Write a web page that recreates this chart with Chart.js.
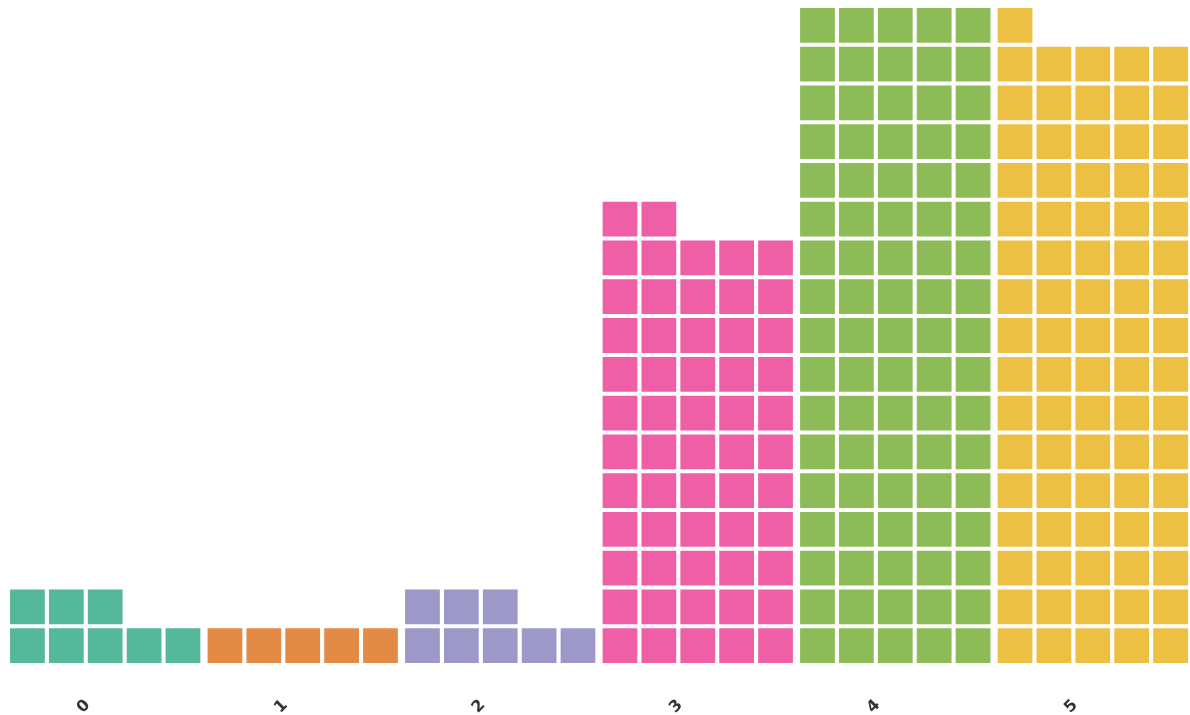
<!DOCTYPE html>
<html>
<head>
<meta charset="utf-8">
<script src="https://cdn.jsdelivr.net/npm/chart.js@4/dist/chart.umd.min.js"></script>
<style>
  html, body { margin: 0; padding: 0; background: #fff; }
  #wrap { width: 1190px; height: 715px; }
</style>
</head>
<body>
<div id="wrap"><canvas id="waffleChart"></canvas></div>
<script>
// waffle data: one square per unit, 5 squares per row
const categories = ['0', '1', '2', '3', '4', '5'];
const counts = [8, 5, 8, 57, 85, 81];
const colors = ['#55b89a', '#e38a44', '#9c98c8', '#ee5fa5', '#8cbb58', '#ebc043'];
const cellsPerRow = 5;

const groupGap = 0.08;     // extra space between category blocks, in cell units
const labelOffset = 1.55;  // where the tick label sits inside a block

function blockStart(i) {
    return i * (cellsPerRow + groupGap);
}

function renderWaffle() {
    const ctx = document.getElementById('waffleChart').getContext('2d');

    const datasets = categories.map((cat, i) => {
        const pts = [];
        for (let n = 0; n < counts[i]; n++) {
            pts.push({ x: blockStart(i) + (n % cellsPerRow), y: Math.floor(n / cellsPerRow) });
        }
        return {
            label: cat,
            data: pts,
            backgroundColor: colors[i],
            borderWidth: 0
        };
    });

    const maxRows = Math.max(...counts.map(c => Math.ceil(c / cellsPerRow)));

    new Chart(ctx, {
        type: 'scatter',
        data: { datasets: datasets },
        options: {
            responsive: true,
            maintainAspectRatio: false,
            animation: false,
            events: [],
            layout: { padding: { left: 8, right: 0, top: 6, bottom: 0 } },
            elements: {
                point: {
                    pointStyle: 'rect',
                    borderWidth: 0,
                    radius: function(c) {
                        const s = c.chart.scales;
                        if (!s.x || !s.y) return 20;
                        const px = Math.abs(s.x.getPixelForValue(1) - s.x.getPixelForValue(0));
                        const py = Math.abs(s.y.getPixelForValue(1) - s.y.getPixelForValue(0));
                        return (Math.min(px, py) - 4) / Math.SQRT2;
                    }
                }
            },
            plugins: {
                legend: { display: false },
                tooltip: { enabled: false }
            },
            scales: {
                x: {
                    type: 'linear',
                    min: -0.5,
                    max: blockStart(categories.length - 1) + cellsPerRow - 0.5,
                    grid: { display: false, drawTicks: false },
                    border: { display: false },
                    afterBuildTicks: function(axis) {
                        axis.ticks = categories.map((c, i) => ({ value: blockStart(i) + labelOffset }));
                    },
                    afterFit: function(axis) {
                        axis.height = 50;
                    },
                    ticks: {
                        autoSkip: false,
                        minRotation: 45,
                        maxRotation: 45,
                        padding: 31,
                        color: '#333',
                        font: { family: 'DejaVu Sans', size: 16, weight: 'bold' },
                        callback: function(value, index) { return categories[index]; }
                    }
                },
                y: {
                    display: false,
                    min: -0.5,
                    max: maxRows - 0.5
                }
            }
        }
    });
}

renderWaffle();
</script>
</body>
</html>
